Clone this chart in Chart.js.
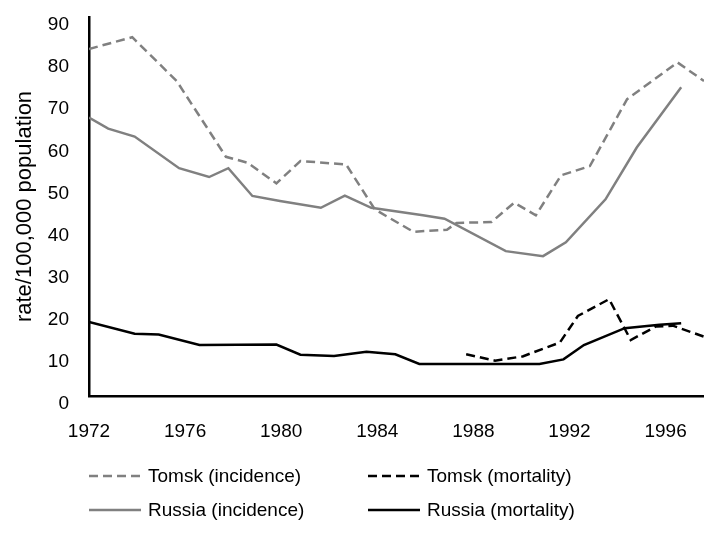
<!DOCTYPE html>
<html>
<head>
<meta charset="utf-8">
<script src="https://cdn.jsdelivr.net/npm/chart.js@4.4.1/dist/chart.umd.min.js"></script>
<style>
  html, body { margin: 0; padding: 0; background: #fff; }
  #wrap { position: relative; width: 704px; height: 535px; }
  #legend { position: absolute; left: 0; top: 0; width: 704px; height: 535px; pointer-events: none;
    font-family: "Liberation Sans", Arial, sans-serif; font-size: 19px; color: #000; }
  .item { position: absolute; height: 22px; display: flex; align-items: center; white-space: nowrap; }
  .item svg { margin-right: 7px; }
</style>
</head>
<body>
<div id="wrap">
  <canvas id="chart" width="704" height="535"></canvas>
  <div id="legend"></div>
</div>
<script>
// === data (years are fractional) ===
const tomskIncYears = [1972.0, 1973.8, 1975.65, 1977.7, 1978.6, 1979.8, 1980.8, 1982.7, 1983.9, 1985.5, 1986.9, 1987.3, 1988.75, 1989.7, 1990.6, 1991.65, 1992.85, 1994.4, 1996.5, 1997.6];
const tomskIncRate  = [82.4, 85.2, 74.8, 56.8, 55.4, 50.5, 55.8, 55.0, 44.3, 39.0, 39.5, 41.1, 41.3, 45.9, 42.9, 52.4, 54.6, 70.5, 79.2, 74.8];

const tomskMortYears = [1987.7, 1988.9, 1990.05, 1991.6, 1992.35, 1993.65, 1994.55, 1995.6, 1996.3, 1997.6];
const tomskMortRate  = [9.9, 8.4, 9.4, 12.7, 19.0, 23.0, 13.3, 16.5, 16.7, 14.1];

const russiaIncYears = [1972.0, 1972.8, 1973.9, 1975.75, 1977.0, 1977.8, 1978.8, 1979.95, 1981.65, 1982.65, 1983.75, 1985.9, 1986.8, 1989.35, 1990.9, 1991.85, 1993.5, 1994.8, 1996.65];
const russiaIncRate  = [66.1, 63.5, 61.6, 54.1, 52.0, 54.1, 47.5, 46.3, 44.7, 47.6, 44.7, 42.9, 42.1, 34.4, 33.2, 36.5, 46.7, 59.0, 73.3];

const russiaMortYears = [1972.0, 1973.9, 1974.9, 1976.6, 1979.8, 1980.8, 1982.2, 1983.55, 1984.75, 1985.75, 1990.75, 1991.75, 1992.6, 1994.3, 1995.75, 1996.65];
const russiaMortRate  = [17.6, 14.8, 14.6, 12.1, 12.2, 9.8, 9.5, 10.5, 9.9, 7.6, 7.6, 8.7, 12.1, 16.1, 16.9, 17.3];

const yearTicks = [1972, 1976, 1980, 1984, 1988, 1992, 1996];
const seriesLabels = ['Tomsk (incidence)', 'Tomsk (mortality)', 'Russia (incidence)', 'Russia (mortality)'];

const FONT = '"Liberation Sans", Arial, sans-serif';
const GREY = '#808080';

function pts(xs, ys) {
  return xs.map((x, i) => ({ x: x, y: ys[i] }));
}

function lineSet(label, xs, ys, color, dash) {
  return {
    label: label,
    data: pts(xs, ys),
    borderColor: color,
    backgroundColor: color,
    borderWidth: 2.5,
    borderDash: dash,
    pointRadius: 0,
    tension: 0,
    fill: false
  };
}

const chart = new Chart(document.getElementById('chart'), {
  type: 'line',
  data: {
    datasets: [
      lineSet(seriesLabels[0], tomskIncYears, tomskIncRate, GREY, [9, 5]),
      lineSet(seriesLabels[1], tomskMortYears, tomskMortRate, '#000', [9, 5]),
      lineSet(seriesLabels[2], russiaIncYears, russiaIncRate, GREY, []),
      lineSet(seriesLabels[3], russiaMortYears, russiaMortRate, '#000', [])
    ]
  },
  options: {
    responsive: false,
    animation: false,
    devicePixelRatio: 1,
    layout: { padding: { top: 17, right: 0, bottom: 0, left: 0 } },
    plugins: {
      legend: { display: false },
      tooltip: { enabled: false }
    },
    scales: {
      x: {
        type: 'linear',
        min: 1972,
        max: 1997.6,
        grid: { display: false, drawTicks: false },
        border: { display: true, color: '#000', width: 2.5 },
        ticks: {
          color: '#000',
          font: { family: FONT, size: 19 },
          padding: 24,
          maxRotation: 0,
          autoSkip: false,
          callback: v => String(v)
        },
        afterBuildTicks: s => { s.ticks = yearTicks.map(v => ({ value: v })); },
        afterFit: s => { s.height = 139; s.paddingLeft = 0; s.paddingRight = 0; }
      },
      y: {
        min: 0,
        max: 90,
        grid: { display: false, drawTicks: false },
        border: { display: true, color: '#000', width: 2.5 },
        ticks: {
          stepSize: 10,
          color: '#000',
          font: { family: FONT, size: 19 },
          padding: 20,
          labelOffset: 8
        },
        title: {
          display: true,
          text: 'rate/100,000 population',
          color: '#000',
          font: { family: FONT, size: 22 },
          padding: { top: 12, bottom: 0 }
        },
        afterFit: s => { s.width = 89; s.paddingTop = 0; s.paddingBottom = 0; }
      }
    }
  }
});

// html legend, 2 x 2 like the original
const legendEl = document.getElementById('legend');
const colX = [89, 368];
const rowY = [476, 510];
Chart.defaults.plugins.legend.labels.generateLabels(chart).forEach((item, i) => {
  const div = document.createElement('div');
  div.className = 'item';
  div.style.left = colX[i % 2] + 'px';
  div.style.top = (rowY[Math.floor(i / 2)] - 11) + 'px';
  const dash = (item.lineDash && item.lineDash.length) ? item.lineDash.join(' ') : 'none';
  div.innerHTML =
    `<svg width="52" height="10"><line x1="0" y1="5" x2="52" y2="5" stroke="${item.strokeStyle}" stroke-width="2.5" stroke-dasharray="${dash}"/></svg>` +
    `<span>${item.text}</span>`;
  legendEl.appendChild(div);
});
</script>
</body>
</html>
